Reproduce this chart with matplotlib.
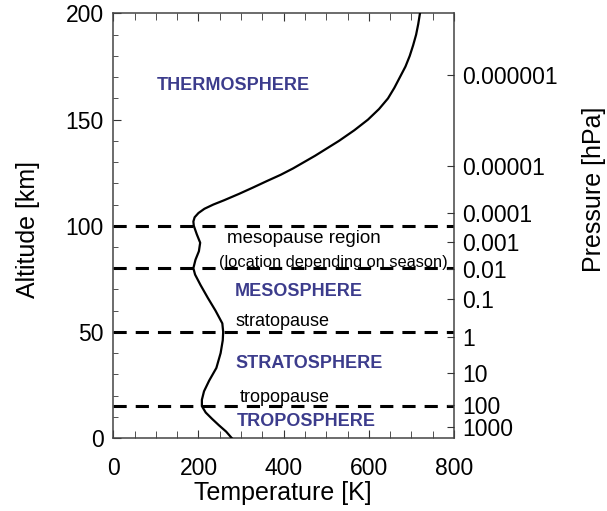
import matplotlib
matplotlib.use("Agg")
import matplotlib.pyplot as plt
from matplotlib.ticker import MultipleLocator

plt.rcParams['font.family'] = ['Liberation Sans', 'DejaVu Sans']
plt.rcParams['lines.scale_dashes'] = False

# Temperature profile (altitude km, temperature K)
altitude = [0, 3, 6, 9, 12, 15, 18, 22, 27, 33, 40, 46, 50, 54, 60, 66, 72, 77, 80,
            84, 88, 92, 96, 100, 102, 104, 106, 108, 110, 112, 115, 118, 121, 124, 127, 130,
            133, 136, 140, 145, 150, 155, 160, 165, 170, 175, 180, 185, 190, 195, 200]
temperature = [278, 265, 248, 232, 217, 208, 208, 213, 225, 242, 252, 257, 258, 256, 240, 222, 205, 192, 188,
               193, 201, 204, 196, 189, 188, 191, 200, 214, 235, 260, 295, 328, 360, 393, 422, 448,
               474, 498, 530, 566, 598, 624, 645, 660, 673, 686, 696, 704, 711, 716, 720]

# Layer boundaries (km)
boundaries = [100, 80, 50, 15]

# Pressure axis: labels and the altitude where each is placed
pressure_labels = ['0.000001', '0.00001', '0.0001', '0.001', '0.01', '0.1', '1', '10', '100', '1000']
pressure_alt = [171, 128, 106, 92.5, 79.6, 65.5, 47.7, 30.6, 15.5, 5.0]

# Annotations
layer_names = ['THERMOSPHERE', 'MESOSPHERE', 'STRATOSPHERE', 'TROPOSPHERE']
layer_T = [103, 286, 288, 290]
layer_alt = [166, 69, 35.3, 7.7]
notes = ['mesopause region', '(location depending on season)', 'stratopause', 'tropopause']
notes_T = [266, 248, 288, 297]
notes_alt = [94, 82.5, 54.8, 19.0]
notes_size = [13.5, 11.8, 13, 13]

fig = plt.figure(figsize=(6.07, 5.11), dpi=100)
ax = fig.add_axes([113.3/607, 1-438/511, (454-113.3)/607, (438-13.5)/511])

ax.plot(temperature, altitude, color='black', lw=1.6, zorder=3)
for b in boundaries:
    ax.axhline(b, color='black', lw=2.2, linestyle=(0, (9.5, 6.5)), zorder=2)

ax.set_xlim(0, 800)
ax.set_ylim(0, 200)
ax.xaxis.set_major_locator(MultipleLocator(200))
ax.xaxis.set_minor_locator(MultipleLocator(50))
ax.yaxis.set_major_locator(MultipleLocator(50))
ax.yaxis.set_minor_locator(MultipleLocator(10))
ax.tick_params(axis='both', which='both', direction='in', top=True, right=False,
               colors='#333333', labelcolor='black', labelsize=16.5)
ax.tick_params(axis='x', which='major', length=6, pad=14)
ax.tick_params(axis='x', which='minor', length=5)
ax.tick_params(axis='y', which='major', length=6, pad=7)
ax.tick_params(axis='y', which='minor', length=3.5)
for s in ax.spines.values():
    s.set_linewidth(1.1)
    s.set_color('#444444')

ax2 = ax.twinx()
ax2.set_ylim(ax.get_ylim())
ax2.set_yticks(pressure_alt)
ax2.set_yticklabels(pressure_labels)
ax2.tick_params(axis='y', direction='in', length=5, pad=6, colors='#333333',
                labelcolor='black', labelsize=16.5)
for s in ax2.spines.values():
    s.set_visible(False)

blue = '#3c3c8c'
for t, x, y in zip(layer_names, layer_T, layer_alt):
    ax.text(x, y, t, color=blue, fontweight='bold', fontsize=13, ha='left', va='center', zorder=4)
for t, x, y, fs in zip(notes, notes_T, notes_alt, notes_size):
    ax.text(x, y, t, color='black', fontsize=fs, ha='left', va='center', zorder=4)

fig.text(283/607, 1-493/511, 'Temperature [K]', fontsize=18, ha='center', va='center')
fig.text(28/607, 1-229/511, 'Altitude [km]', fontsize=18, ha='center', va='center', rotation=90)
fig.text(594/607, 1-189/511, 'Pressure [hPa]', fontsize=18, ha='center', va='center', rotation=90)

fig.savefig('out.png', dpi=100)
